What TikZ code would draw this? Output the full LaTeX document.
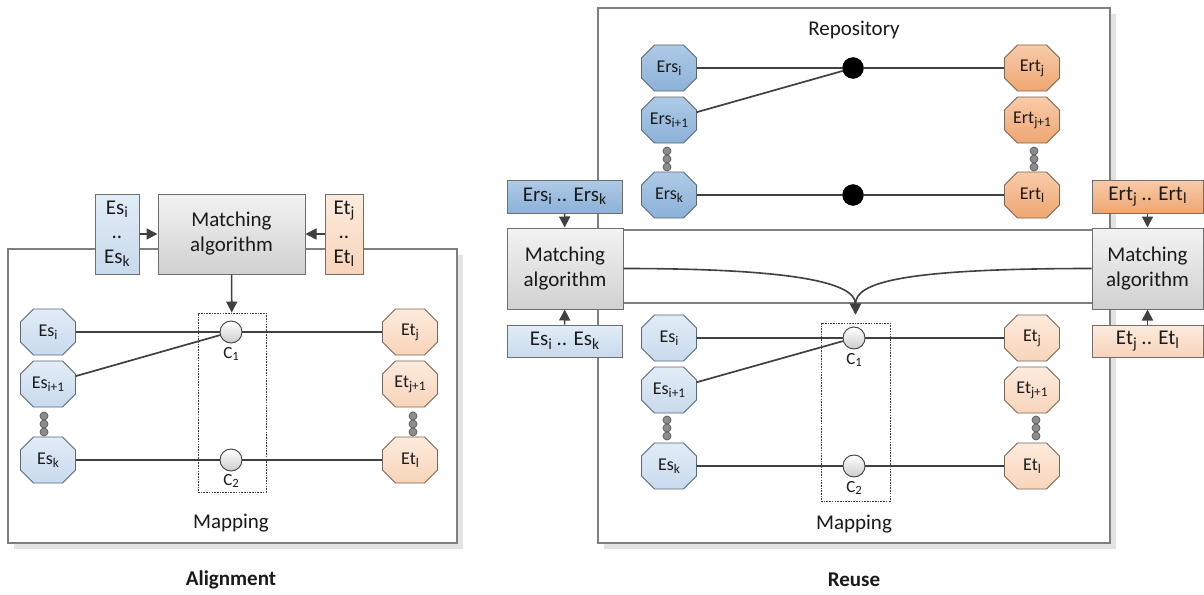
\documentclass[tikz,border=0pt]{standalone}
\usepackage{fontspec}
\setmainfont{Carlito}
\usetikzlibrary{arrows.meta}

% palette
\definecolor{linec}{HTML}{404040}
\definecolor{framec}{HTML}{7F7F7F}
\definecolor{shadowc}{HTML}{E3E3E3}
\definecolor{txtc}{HTML}{1A1A1A}
\definecolor{esTop}{HTML}{E2ECF6}
\definecolor{esBot}{HTML}{C8DAED}
\definecolor{etTop}{HTML}{FDEBDD}
\definecolor{etBot}{HTML}{F8D4BA}
\definecolor{ersTop}{HTML}{AECAE6}
\definecolor{ersBot}{HTML}{8CB1D8}
\definecolor{ertTop}{HTML}{F8CBA9}
\definecolor{ertBot}{HTML}{EFA671}
\definecolor{octBlue}{HTML}{5B6877}
\definecolor{octOrange}{HTML}{7A6656}
\definecolor{boxBorder}{HTML}{6F6F6F}

% subscript a little larger than the default one
\newcommand\sbs[1]{\raisebox{-0.35ex}{\scalebox{0.74}{#1}}}

% octagon: name, x, y, fill style, text
\newcommand\octnode[5]{%
  \path[#4, line width=0.9pt, shift={(#2,#3)}]
    (-27.5,-10) -- (-27.5,10) -- (-14.5,23) -- (14.5,23) -- (27.5,10)
    -- (27.5,-10) -- (14.5,-23) -- (-14.5,-23) -- cycle;
  \node[octlabel] (#1) at (#2,#3) {#5};}

% three stacked grey dots
\newcommand\dotstack[3]{% name prefix, x, y of first dot
  \foreach \k in {0,1,2}{\node[smalldot] (#1\k) at (#2,#3+8*\k) {};}}

\tikzset{
  every node/.style={text=txtc},
  conn/.style={draw=linec, line width=1.7pt},
  arr/.style={draw=linec, line width=1.6pt, -{Triangle[length=11pt,width=11pt]}},
  frame/.style={draw=framec, line width=1.2pt},
  bigtext/.style={font=\fontsize{21}{25}\selectfont},
  octlabel/.style={rectangle, minimum width=55pt, minimum height=46pt, inner sep=0pt,
    font=\fontsize{18}{20}\selectfont},
  esoct/.style={draw=octBlue, top color=esTop, bottom color=esBot},
  etoct/.style={draw=octOrange, top color=etTop, bottom color=etBot},
  ersoct/.style={draw=octBlue, top color=ersTop, bottom color=ersBot},
  ertoct/.style={draw=octOrange, top color=ertTop, bottom color=ertBot},
  boxbase/.style={rectangle, draw=boxBorder, line width=1pt, inner sep=0pt, bigtext, align=center},
  matchbox/.style={boxbase, top color=white!95!black, bottom color=white!82!black},
  esbox/.style={boxbase, top color=esTop, bottom color=esBot},
  etbox/.style={boxbase, top color=etTop, bottom color=etBot},
  ersbox/.style={boxbase, top color=ersTop, bottom color=ersBot},
  ertbox/.style={boxbase, top color=ertTop, bottom color=ertBot},
  cnode/.style={circle, draw=linec, line width=0.9pt, top color=white, bottom color=white!80!black,
    minimum size=22pt, inner sep=0pt},
  bnode/.style={circle, draw=black, fill=black, minimum size=21pt, inner sep=0pt},
  smalldot/.style={circle, draw=white!35!black, fill=white!55!black, line width=0.7pt,
    minimum size=8pt, inner sep=0pt},
  dashbox/.style={rectangle, draw=linec, line width=0.9pt, dash pattern=on 1.6pt off 1.1pt, inner sep=0pt},
  clabel/.style={font=\fontsize{17}{18}\selectfont},
}

\begin{document}
\begin{tikzpicture}[x=1pt, y=-1pt]
\useasboundingbox (0,0) rectangle (1204,594);

% ---------- frames with soft shadows ----------
\fill[shadowc] (14,255) rectangle (463,549);
\fill[shadowc] (604,14) rectangle (1116,309);
\fill[shadowc] (604,236) rectangle (1116,549);
\fill[white] (8,249) rectangle (457,543);
\fill[white] (598,8) rectangle (1110,303);
\fill[white] (598,230) rectangle (1110,543);
\draw[frame] (8,249) rectangle (457,543);
\draw[frame] (598,8) rectangle (1110,303);
\draw[frame] (598,230) rectangle (1110,543);

% =================== Alignment ===================
\node[esbox, minimum width=44pt, minimum height=80pt, font=\fontsize{21}{24.5}\selectfont]
  (esA) at (117,234) {Es\sbs{i}\\..\\Es\sbs{k}};
\node[matchbox, minimum width=147pt, minimum height=80pt] (mA) at (231.5,234) {Matching\\algorithm};
\node[etbox, minimum width=38pt, minimum height=80pt, font=\fontsize{21}{24.5}\selectfont]
  (etA) at (344,234) {Et\sbs{j}\\..\\Et\sbs{l}};

\node[dashbox, minimum width=68pt, minimum height=179pt] (dA) at (232,402.5) {};

\octnode{esiA}{48}{332}{esoct}{Es\sbs{i}}
\octnode{esiiA}{48}{384}{esoct}{Es\sbs{i+1}}
\octnode{eskA}{48}{460}{esoct}{Es\sbs{k}}
\octnode{etjA}{410}{332}{etoct}{Et\sbs{j}}
\octnode{etjjA}{410}{384}{etoct}{Et\sbs{j+1}}
\octnode{etlA}{410}{460}{etoct}{Et\sbs{l}}
\dotstack{sdA}{44}{416}
\dotstack{tdA}{413}{416}

\node[cnode] (c1A) at (231,332) {};
\node[cnode] (c2A) at (231,460) {};
\node[clabel] (c1Alab) at (231,354) {C\sbs{1}};
\node[clabel] (c2Alab) at (231,481) {C\sbs{2}};

\draw[conn] (esiA) -- (c1A);
\draw[conn] (esiiA) -- (c1A);
\draw[conn] (c1A) -- (etjA);
\draw[conn] (eskA) -- (c2A);
\draw[conn] (c2A) -- (etlA);

\draw[arr] (esA) -- (mA);
\draw[arr] (etA) -- (mA);
\draw[arr] (mA) -- (dA);

\node[bigtext] (mapA) at (231,523) {Mapping};
\node[font=\fontsize{21}{25}\selectfont\bfseries] (capA) at (231,580) {Alignment};

% =================== Reuse ===================
\node[bigtext] (repo) at (854,30) {Repository};

\octnode{ersi}{669}{68}{ersoct}{Ers\sbs{i}}
\octnode{ersii}{669}{120}{ersoct}{Ers\sbs{i+1}}
\octnode{ersk}{669}{195}{ersoct}{Ers\sbs{k}}
\octnode{ertj}{1032}{68}{ertoct}{Ert\sbs{j}}
\octnode{ertjj}{1032}{120}{ertoct}{Ert\sbs{j+1}}
\octnode{ertl}{1032}{195}{ertoct}{Ert\sbs{l}}
\dotstack{rsd}{667}{151}
\dotstack{rtd}{1034}{151}

\node[bnode] (b1) at (853,68) {};
\node[bnode] (b2) at (853,195) {};
\draw[conn] (ersi) -- (b1);
\draw[conn] (ersii) -- (b1);
\draw[conn] (b1) -- (ertj);
\draw[conn] (ersk) -- (b2);
\draw[conn] (b2) -- (ertl);

\node[ersbox, minimum width=115pt, minimum height=33pt] (ersB) at (564.5,196.5) {Ers\sbs{i} .. Ers\sbs{k}};
\node[matchbox, minimum width=116pt, minimum height=81pt] (mL) at (565,268.5) {Matching\\algorithm};
\node[esbox, minimum width=115pt, minimum height=32pt] (esB) at (564.5,341) {Es\sbs{i} .. Es\sbs{k}};
\node[ertbox, minimum width=111pt, minimum height=33pt] (ertB) at (1147.5,196.5) {Ert\sbs{j} .. Ert\sbs{l}};
\node[matchbox, minimum width=111pt, minimum height=81pt] (mR) at (1147.5,268.5) {Matching\\algorithm};
\node[etbox, minimum width=111pt, minimum height=32pt] (etB) at (1147.5,341) {Et\sbs{j} .. Et\sbs{l}};

\draw[arr] (ersB) -- (mL);
\draw[arr] (esB) -- (mL);
\draw[arr] (ertB) -- (mR);
\draw[arr] (etB) -- (mR);

\node[dashbox, minimum width=69pt, minimum height=178pt] (dB) at (855.5,412) {};

\octnode{esiB}{669}{338}{esoct}{Es\sbs{i}}
\octnode{esiiB}{669}{390}{esoct}{Es\sbs{i+1}}
\octnode{eskB}{669}{466}{esoct}{Es\sbs{k}}
\octnode{etjB}{1032}{338}{etoct}{Et\sbs{j}}
\octnode{etjjB}{1032}{390}{etoct}{Et\sbs{j+1}}
\octnode{etlB}{1032}{466}{etoct}{Et\sbs{l}}
\dotstack{sdB}{667}{420}
\dotstack{tdB}{1036}{420}

\node[cnode] (c1B) at (854,338) {};
\node[cnode] (c2B) at (854,466) {};
\node[clabel] (c1Blab) at (854,360) {C\sbs{1}};
\node[clabel] (c2Blab) at (854,488) {C\sbs{2}};

\draw[conn] (esiB) -- (c1B);
\draw[conn] (esiiB) -- (c1B);
\draw[conn] (c1B) -- (etjB);
\draw[conn] (eskB) -- (c2B);
\draw[conn] (c2B) -- (etlB);

\draw[arr, shorten >=8pt] (mL.east) .. controls +(170,0) and +(0,-40) .. (dB.north);
\draw[arr, shorten >=8pt] (mR.west) .. controls +(-190,0) and +(0,-40) .. (dB.north);

\node[bigtext] (mapB) at (854,524) {Mapping};
\node[font=\fontsize{21}{25}\selectfont\bfseries] (capB) at (854,580) {Reuse};
\end{tikzpicture}
\end{document}
